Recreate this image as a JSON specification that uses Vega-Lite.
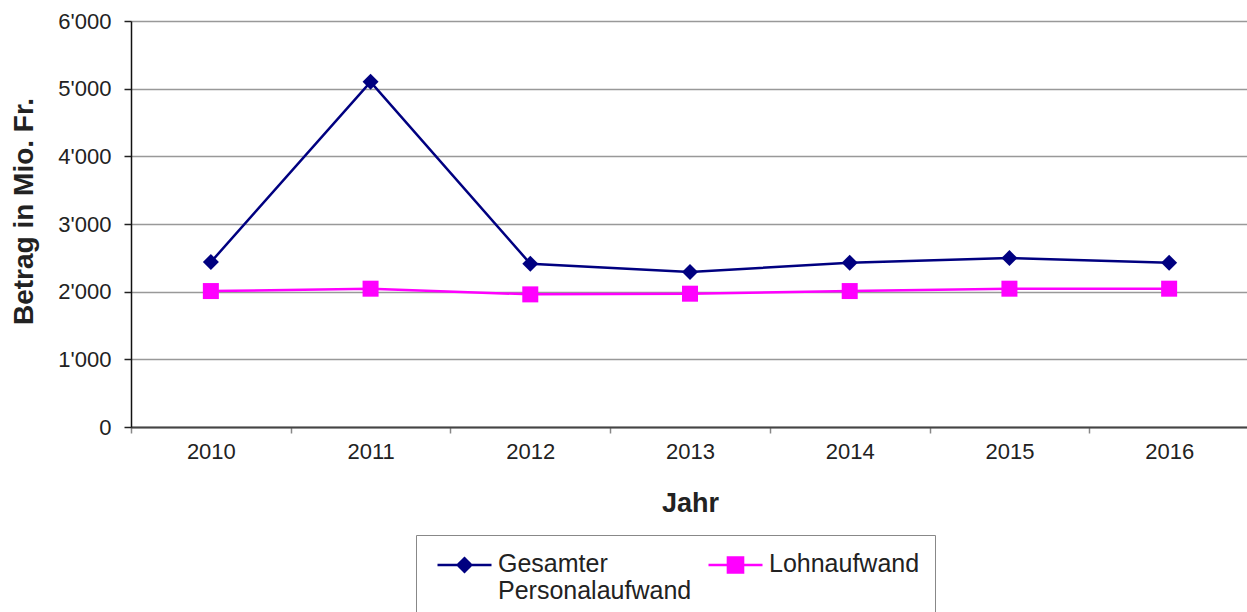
{
  "$schema": "https://vega.github.io/schema/vega-lite/v6.json",
  "autosize": {"type": "none"},
  "padding": {"left": 131, "top": 21, "right": 0, "bottom": 185},
  "width": 1118,
  "height": 406,
  "background": "white",
  "config": {
    "view": {"stroke": null},
    "font": "Liberation Sans",
    "axis": {"labelFont": "Liberation Sans", "titleFont": "Liberation Sans"}
  },
  "data": {
    "values": [
      {"Jahr": "2010", "Serie": "Gesamter Personalaufwand", "Betrag": 2437},
      {"Jahr": "2011", "Serie": "Gesamter Personalaufwand", "Betrag": 5101},
      {"Jahr": "2012", "Serie": "Gesamter Personalaufwand", "Betrag": 2413},
      {"Jahr": "2013", "Serie": "Gesamter Personalaufwand", "Betrag": 2290},
      {"Jahr": "2014", "Serie": "Gesamter Personalaufwand", "Betrag": 2428},
      {"Jahr": "2015", "Serie": "Gesamter Personalaufwand", "Betrag": 2496},
      {"Jahr": "2016", "Serie": "Gesamter Personalaufwand", "Betrag": 2428},
      {"Jahr": "2010", "Serie": "Lohnaufwand", "Betrag": 2009},
      {"Jahr": "2011", "Serie": "Lohnaufwand", "Betrag": 2044},
      {"Jahr": "2012", "Serie": "Lohnaufwand", "Betrag": 1960},
      {"Jahr": "2013", "Serie": "Lohnaufwand", "Betrag": 1970},
      {"Jahr": "2014", "Serie": "Lohnaufwand", "Betrag": 2009},
      {"Jahr": "2015", "Serie": "Lohnaufwand", "Betrag": 2044},
      {"Jahr": "2016", "Serie": "Lohnaufwand", "Betrag": 2044}
    ]
  },
  "encoding": {
    "x": {
      "field": "Jahr",
      "type": "ordinal",
      "bandPosition": 0.5,
      "scale": {"type": "band", "paddingInner": 0, "paddingOuter": 0},
      "axis": {
        "title": "Jahr",
        "labelAngle": 0,
        "labelFontSize": 22,
        "labelColor": "#222222",
        "labelPadding": 8,
        "tickBand": "extent",
        "ticks": true,
        "tickSize": 6,
        "tickColor": "#888888",
        "tickWidth": 1.5,
        "domainColor": "#444444",
        "domainWidth": 2,
        "grid": false,
        "titleFontSize": 27,
        "titleFontWeight": "bold",
        "titleColor": "#222222",
        "titleY": 76,
        "titleBaseline": "middle"
      }
    },
    "y": {
      "field": "Betrag",
      "type": "quantitative",
      "scale": {"domain": [0, 6000], "nice": false},
      "axis": {
        "title": "Betrag in Mio. Fr.",
        "values": [0, 1000, 2000, 3000, 4000, 5000, 6000],
        "labelExpr": "replace(format(datum.value, ','), ',', \"'\")",
        "labelFontSize": 22,
        "labelColor": "#222222",
        "labelPadding": 13,
        "tickSize": 7,
        "tickColor": "#222222",
        "tickWidth": 1.5,
        "domainColor": "#111111",
        "domainWidth": 1.5,
        "grid": true,
        "gridColor": "#999999",
        "gridWidth": 1.5,
        "titleFontSize": 28,
        "titleFontWeight": "bold",
        "titleColor": "#222222",
        "titleX": -107,
        "titleY": 190,
        "titleAlign": "center",
        "titleBaseline": "middle",
        "titleAngle": -90
      }
    },
    "color": {
      "field": "Serie",
      "type": "nominal",
      "scale": {"domain": ["Gesamter Personalaufwand", "Lohnaufwand"], "range": ["#000080", "#FF00FF"]},
      "legend": {
        "title": null,
        "orient": "none",
        "legendX": 285,
        "legendY": 514,
        "direction": "horizontal",
        "columns": 2,
        "columnPadding": 10,
        "padding": 15,
        "strokeColor": "#888888",
        "fillColor": "white",
        "labelFont": "Liberation Sans",
        "labelFontSize": 25,
        "labelColor": "#222222",
        "labelLimit": 400,
        "labelOffset": 5,
        "labelBaseline": "middle",
        "labelExpr": "datum.label === 'Gesamter Personalaufwand' ? ['Gesamter', 'Personalaufwand'] : [datum.label + '\u00a0\u00a0\u00a0\u00a0\u00a0', ' ']",
        "symbolType": "M-1,0H1M-0.27,-0.27H0.27V0.27H-0.27Z",
        "symbolSize": 2916,
        "symbolStrokeWidth": 2.5,
        "symbolOffset": 5,
        "encode": {
          "symbols": {
            "update": {
              "shape": {"signal": "datum.value === 'Lohnaufwand' ? 'M-1,0H1M-0.28,-0.28H0.28V0.28H-0.28Z' : 'M-1,0H1M-0.25,0L0,-0.25L0.25,0L0,0.25Z'"},
              "fill": {"signal": "datum.value === 'Lohnaufwand' ? '#FF00FF' : '#000080'"},
              "stroke": {"signal": "datum.value === 'Lohnaufwand' ? '#FF00FF' : '#000080'"},
              "strokeWidth": {"value": 2.5},
              "opacity": {"value": 1},
              "y": {"value": 15}
            }
          },
          "labels": {
            "update": {
              "y": {"value": 14}
            }
          }
        }
      }
    }
  },
  "layer": [
    {
      "mark": {"type": "line", "strokeWidth": 2.5}
    },
    {
      "mark": {"type": "point", "filled": true, "opacity": 1, "size": 256},
      "encoding": {
        "shape": {
          "condition": {"test": "datum.Serie === 'Lohnaufwand'", "value": "square"},
          "value": "diamond"
        }
      }
    }
  ]
}
